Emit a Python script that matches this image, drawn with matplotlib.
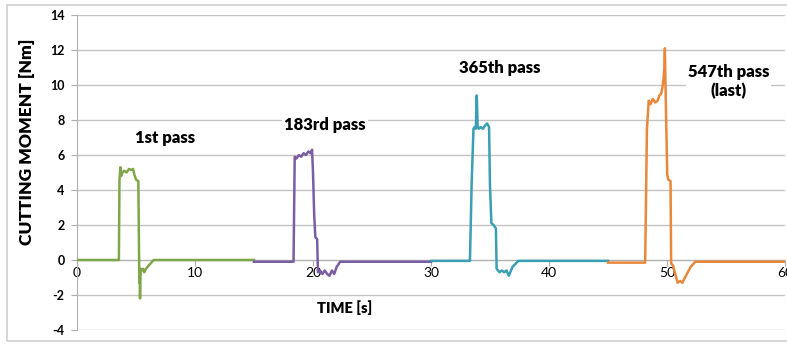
"""Cutting moment vs time for four tool passes (Excel-style line chart)."""

import matplotlib
matplotlib.use("Agg")
import matplotlib.pyplot as plt
from matplotlib.patches import Rectangle

# ---- data -------------------------------------------------------------
pass1_t = [0, 3.55, 3.6, 3.68, 3.75, 3.85, 4.0, 4.2, 4.4, 4.6, 4.75, 4.85, 5.0, 5.2,
           5.28, 5.31, 5.34, 5.4, 5.48, 5.6, 5.7, 5.85, 6.1, 6.5, 15]
pass1_v = [0, 0, 4.6, 5.3, 4.8, 5.0, 5.1, 5.0, 5.2, 5.15, 5.2, 4.9, 4.6, 4.5,
           -1.3, -0.8, -2.2, -0.5, -0.6, -0.5, -0.7, -0.5, -0.3, 0, 0]

pass183_t = [15, 18.35, 18.45, 18.6, 18.8, 19.0, 19.2, 19.4, 19.6, 19.8, 19.92, 20.0,
             20.1, 20.2, 20.35, 20.42, 20.6, 20.8, 21.0, 21.2, 21.4, 21.6, 21.8, 22.0,
             22.3, 30]
pass183_v = [-0.1, -0.1, 5.9, 5.8, 6.0, 5.9, 6.1, 6.0, 6.2, 6.1, 6.3, 5.0,
             2.6, 1.3, 1.2, -0.7, -0.6, -0.8, -0.6, -0.8, -0.9, -0.6, -0.8, -0.4,
             -0.1, -0.1]

pass365_t = [30, 33.3, 33.45, 33.6, 33.7, 33.8, 33.88, 33.95, 34.05, 34.2, 34.4, 34.6,
             34.75, 34.92, 35.0, 35.12, 35.3, 35.5, 35.56, 35.8, 36.0, 36.2, 36.4,
             36.6, 36.9, 37.4, 45]
pass365_v = [-0.05, -0.05, 4.5, 7.5, 7.6, 7.5, 9.4, 7.6, 7.5, 7.6, 7.5, 7.7,
             7.8, 7.6, 4.2, 2.1, 2.0, 1.8, -0.5, -0.7, -0.6, -0.7, -0.6,
             -0.9, -0.4, -0.05, -0.05]

pass547_t = [45, 48.15, 48.3, 48.45, 48.6, 48.8, 49.0, 49.2, 49.35, 49.5, 49.6, 49.7,
             49.78, 49.82, 49.9, 50.02, 50.1, 50.3, 50.35, 50.5, 50.7, 50.9, 51.1,
             51.3, 51.6, 52.0, 52.4, 60]
pass547_v = [-0.15, -0.15, 7.5, 9.1, 8.9, 9.2, 9.0, 9.1, 9.4, 9.5, 9.8, 10.3,
             11.0, 12.1, 9.0, 4.9, 4.6, 4.5, -0.2, -0.3, -0.8, -1.3, -1.2,
             -1.3, -0.9, -0.4, -0.1, -0.1]

labels = ["1st pass", "183rd pass", "365th pass", "547th pass\n(last)"]
colors = ["#7fa74a", "#7a5ea3", "#3a9fb2", "#e9883a"]

x_ticks = [0, 10, 20, 30, 40, 50, 60]
y_ticks = [-4, -2, 0, 2, 4, 6, 8, 10, 12, 14]

# ---- figure -----------------------------------------------------------
plt.rcParams["font.family"] = ["Lato", "DejaVu Sans"]

W, H = 787, 348
fig = plt.figure(figsize=(W / 100, H / 100), dpi=100)
fig.patch.set_facecolor("white")

# light chart-area border (cut off at the right edge like the original)
fig.patches.append(Rectangle((7 / W, 7 / H), 1.0, 336 / H, transform=fig.transFigure,
                             fill=False, edgecolor="#d0d0d0", linewidth=1.2))

ax = fig.add_axes([77 / W, 18 / H, 708 / W, 315 / H])

series = [(pass1_t, pass1_v), (pass183_t, pass183_v),
          (pass365_t, pass365_v), (pass547_t, pass547_v)]
for (t, v), c in zip(series, colors):
    ax.plot(t, v, color=c, linewidth=1.8, zorder=3, solid_joinstyle="round")

ax.set_xlim(0, 60)
ax.set_ylim(-4, 14)
ax.set_xticks(x_ticks)
ax.set_yticks(y_ticks)
ax.set_yticklabels([str(v) for v in y_ticks], fontweight="bold", fontsize=9)
ax.set_xticklabels([str(v) for v in x_ticks], fontsize=9, color="#404040")

ax.grid(axis="y", color="#c4c4c4", linewidth=1.0)
ax.set_axisbelow(True)
for side in ("top", "right"):
    ax.spines[side].set_visible(False)
ax.spines["bottom"].set_position(("data", 0))
ax.spines["bottom"].set_color("#b0b0b0")
ax.spines["left"].set_color("#b0b0b0")
ax.tick_params(axis="x", length=4, pad=1, color="#b0b0b0")
ax.tick_params(axis="y", length=4, pad=5, color="#b0b0b0")

ax.set_ylabel("CUTTING MOMENT [Nm]", fontweight="heavy", fontsize=12.5)
ax.yaxis.set_label_coords(-0.06, 0.598)
ax.set_xlabel("TIME [s]", fontweight="heavy", fontsize=10.5)
ax.xaxis.set_label_coords(0.378, 0.095)

# pass annotations
label_pos = [(7.45, 7.0), (21.0, 7.7), (35.8, 11.0), (55.2, 10.2)]
for (x, y), s in zip(label_pos, labels):
    ax.text(x, y, s, ha="center", va="center", fontsize=12, fontweight="heavy",
            linespacing=1.2, zorder=4,
            bbox=dict(facecolor="white", edgecolor="none", pad=1.5))

fig.savefig("out.png", dpi=100)
